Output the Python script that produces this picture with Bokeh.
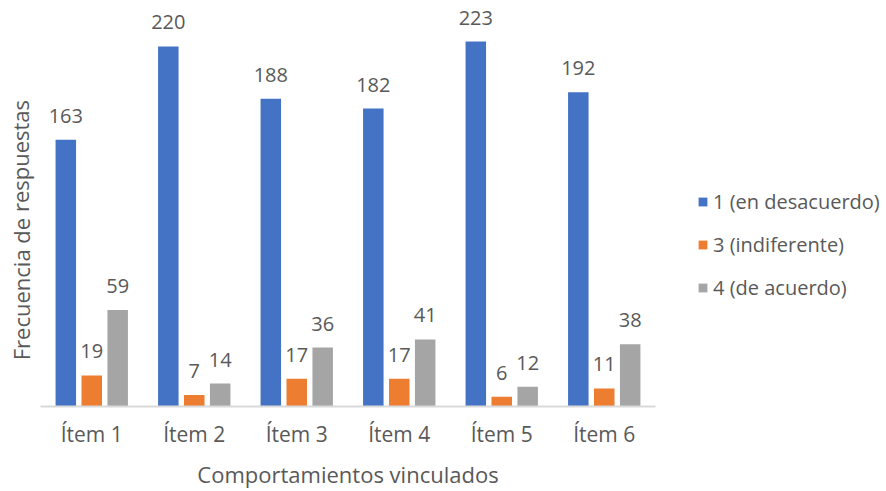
from bokeh.plotting import figure
from bokeh.models import ColumnDataSource, FactorRange, Range1d, LabelSet, Legend, LegendItem, Label
from bokeh.layouts import row
from bokeh.transform import dodge
from bokeh.core.properties import value
from bokeh.embed import file_html
from bokeh.resources import INLINE

items = ["Ítem 1", "Ítem 2", "Ítem 3", "Ítem 4", "Ítem 5", "Ítem 6"]
series_names = ["1 (en desacuerdo)", "3 (indiferente)", "4 (de acuerdo)"]
desacuerdo = [163, 220, 188, 182, 223, 192]
indiferente = [19, 7, 17, 17, 6, 11]
de_acuerdo = [59, 14, 36, 41, 12, 38]
colors = ["#4472C4", "#ED7D31", "#A5A5A5"]

FONT = "Open Sans"
TXT = "#595959"

source = ColumnDataSource(dict(
    item=items,
    s1=desacuerdo, s2=indiferente, s3=de_acuerdo,
    l1=[str(v) for v in desacuerdo],
    l2=[str(v) for v in indiferente],
    l3=[str(v) for v in de_acuerdo],
))

H = 491

# --- left strip: y-axis title ---
pl = figure(width=40, height=H, output_backend="svg", toolbar_location=None,
            x_range=Range1d(0, 40), y_range=Range1d(0, H),
            min_border=0, min_border_left=0, min_border_right=0, min_border_top=0, min_border_bottom=0)
pl.axis.visible = False
pl.grid.visible = False
pl.outline_line_color = None
pl.add_layout(Label(x=20, y=216, text="Frecuencia de respuestas", angle=1.5708,
                    text_align="center", text_baseline="middle", text_font=FONT,
                    text_font_size="22px", text_color=TXT))

# --- main chart ---
p = figure(width=640, height=H, output_backend="svg", toolbar_location=None,
           x_range=FactorRange(*items, range_padding=0, factor_padding=0),
           y_range=Range1d(0, 245),
           min_border_left=0, min_border_right=25, min_border_top=5, min_border_bottom=84)
p.outline_line_color = None
p.grid.visible = False
p.yaxis.visible = False

offsets = [-0.253, 0.0, 0.253]
cols = ["s1", "s2", "s3"]
lcols = ["l1", "l2", "l3"]
for off, c, lc, col in zip(offsets, cols, lcols, colors):
    p.vbar(x=dodge("item", off, range=p.x_range), top=c, width=0.2, source=source,
           fill_color=col, line_color=None)
    p.add_layout(LabelSet(x=dodge("item", off, range=p.x_range), y=c, text=lc, source=source,
                          text_align="center", text_baseline="alphabetic", y_offset=17,
                          text_font=value(FONT), text_font_size="20px", text_color=TXT))

xa = p.xaxis[0]
xa.axis_line_color = "#D9D9D9"
xa.axis_line_width = 2
xa.major_tick_line_color = None
xa.minor_tick_line_color = None
xa.major_tick_out = 0
xa.major_tick_in = 0
xa.major_label_text_font = FONT
xa.major_label_text_font_size = "21px"
xa.major_label_text_color = TXT
xa.major_label_standoff = 13
xa.axis_label = "Comportamientos vinculados"
xa.axis_label_text_font = FONT
xa.axis_label_text_font_size = "22px"
xa.axis_label_text_font_style = "normal"
xa.axis_label_text_color = TXT
xa.axis_label_standoff = 8

# --- right strip: legend ---
pr = figure(width=206, height=H, output_backend="svg", toolbar_location=None,
            x_range=Range1d(0, 1), y_range=Range1d(0, 1),
            min_border=0, min_border_left=0, min_border_right=0, min_border_top=0, min_border_bottom=0)
pr.axis.visible = False
pr.grid.visible = False
pr.outline_line_color = None
dummy = []
for col in colors:
    # zero-height legend swatch carriers (draw nothing in the strip)
    dummy.append(pr.vbar(x=[-10], top=[0], width=0.1, fill_color=col, line_color=None))
legend = Legend(items=[LegendItem(label=n, renderers=[r]) for n, r in zip(series_names, dummy)],
                location=(17, 105))
legend.border_line_color = None
legend.background_fill_alpha = 0
legend.glyph_width = 11
legend.glyph_height = 11
legend.label_height = 20
legend.spacing = 16
legend.label_standoff = 5
legend.padding = 0
legend.margin = 0
legend.label_text_font = FONT
legend.label_text_font_size = "20px"
legend.label_text_color = TXT
pr.add_layout(legend)

layout = row(pl, p, pr, spacing=0)
open("out.html", "w").write(file_html(layout, INLINE))
